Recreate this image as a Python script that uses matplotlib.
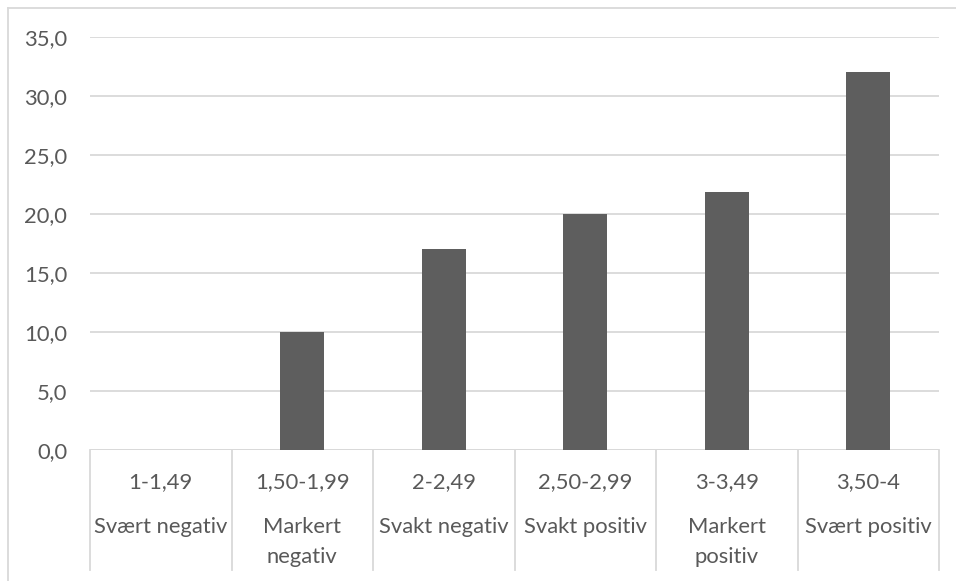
import matplotlib
matplotlib.use("Agg")
import matplotlib.pyplot as plt
from matplotlib.lines import Line2D
from matplotlib.transforms import blended_transform_factory

# Score intervals, verbal descriptions and share (%) in each group
intervals = ["1-1,49", "1,50-1,99", "2-2,49", "2,50-2,99", "3-3,49", "3,50-4"]
descriptions = ["Svært negativ", "Markert\nnegativ", "Svakt negativ",
                "Svakt positiv", "Markert\npositiv", "Svært positiv"]
values = [0.0, 10.0, 17.0, 20.0, 21.9, 32.0]
y_ticks = [0, 5, 10, 15, 20, 25, 30, 35]

text_color = "#595959"
grid_color = "#d9d9d9"
bar_color = "#5e5e5e"
fs = 15.8

plt.rcParams["font.family"] = ["Lato", "DejaVu Sans"]

W, H = 956, 581
fig = plt.figure(figsize=(W / 100, H / 100), dpi=100)
ax = fig.add_axes([90 / W, (H - 450) / H, (939 - 90) / W, (450 - 37) / H])

x = list(range(len(values)))
ax.bar(x, values, width=0.31, color=bar_color, zorder=3)

ax.set_xlim(-0.5, len(values) - 0.5)
ax.set_ylim(0, 35)
ax.set_yticks(y_ticks)
ax.set_yticklabels([f"{v:.1f}".replace(".", ",") for v in y_ticks],
                   fontsize=fs, color=text_color)
ax.tick_params(axis="y", length=0, pad=16.5)
ax.set_xticks([])
ax.yaxis.grid(True, color=grid_color, linewidth=1.3, zorder=0)
for s in ax.spines.values():
    s.set_visible(False)

# Horizontal axis line
ax.axhline(0, color=grid_color, linewidth=1.3, zorder=2)

# Two-level category axis: divider lines and labels
tr = blended_transform_factory(ax.transData, ax.transAxes)
bottom = -(570 - 450) / (450 - 37)
for b in [i - 0.5 for i in range(len(values) + 1)]:
    ax.add_line(Line2D([b, b], [0, bottom], transform=tr, color=grid_color,
                       linewidth=1.3, clip_on=False))

row1 = -(482 - 450) / (450 - 37)
row2 = -(527 - 450) / (450 - 37)
for i, (iv, d) in enumerate(zip(intervals, descriptions)):
    ax.text(i, row1, iv, transform=tr, ha="center", va="center",
            fontsize=fs, color=text_color)
    lines = d.split("\n")
    for k, line in enumerate(lines):
        ax.text(i, row2 - k * 30 / (450 - 37), line, transform=tr,
                ha="center", va="center", fontsize=fs, color=text_color)

# Chart area outline (top and left edges)
fig.add_artist(Line2D([8 / W, 1.0], [(H - 8) / H, (H - 8) / H],
                      transform=fig.transFigure, color=grid_color, linewidth=1.3))
fig.add_artist(Line2D([8 / W, 8 / W], [(H - 8) / H, 0.0],
                      transform=fig.transFigure, color=grid_color, linewidth=1.3))

fig.savefig("out.png", dpi=100)
